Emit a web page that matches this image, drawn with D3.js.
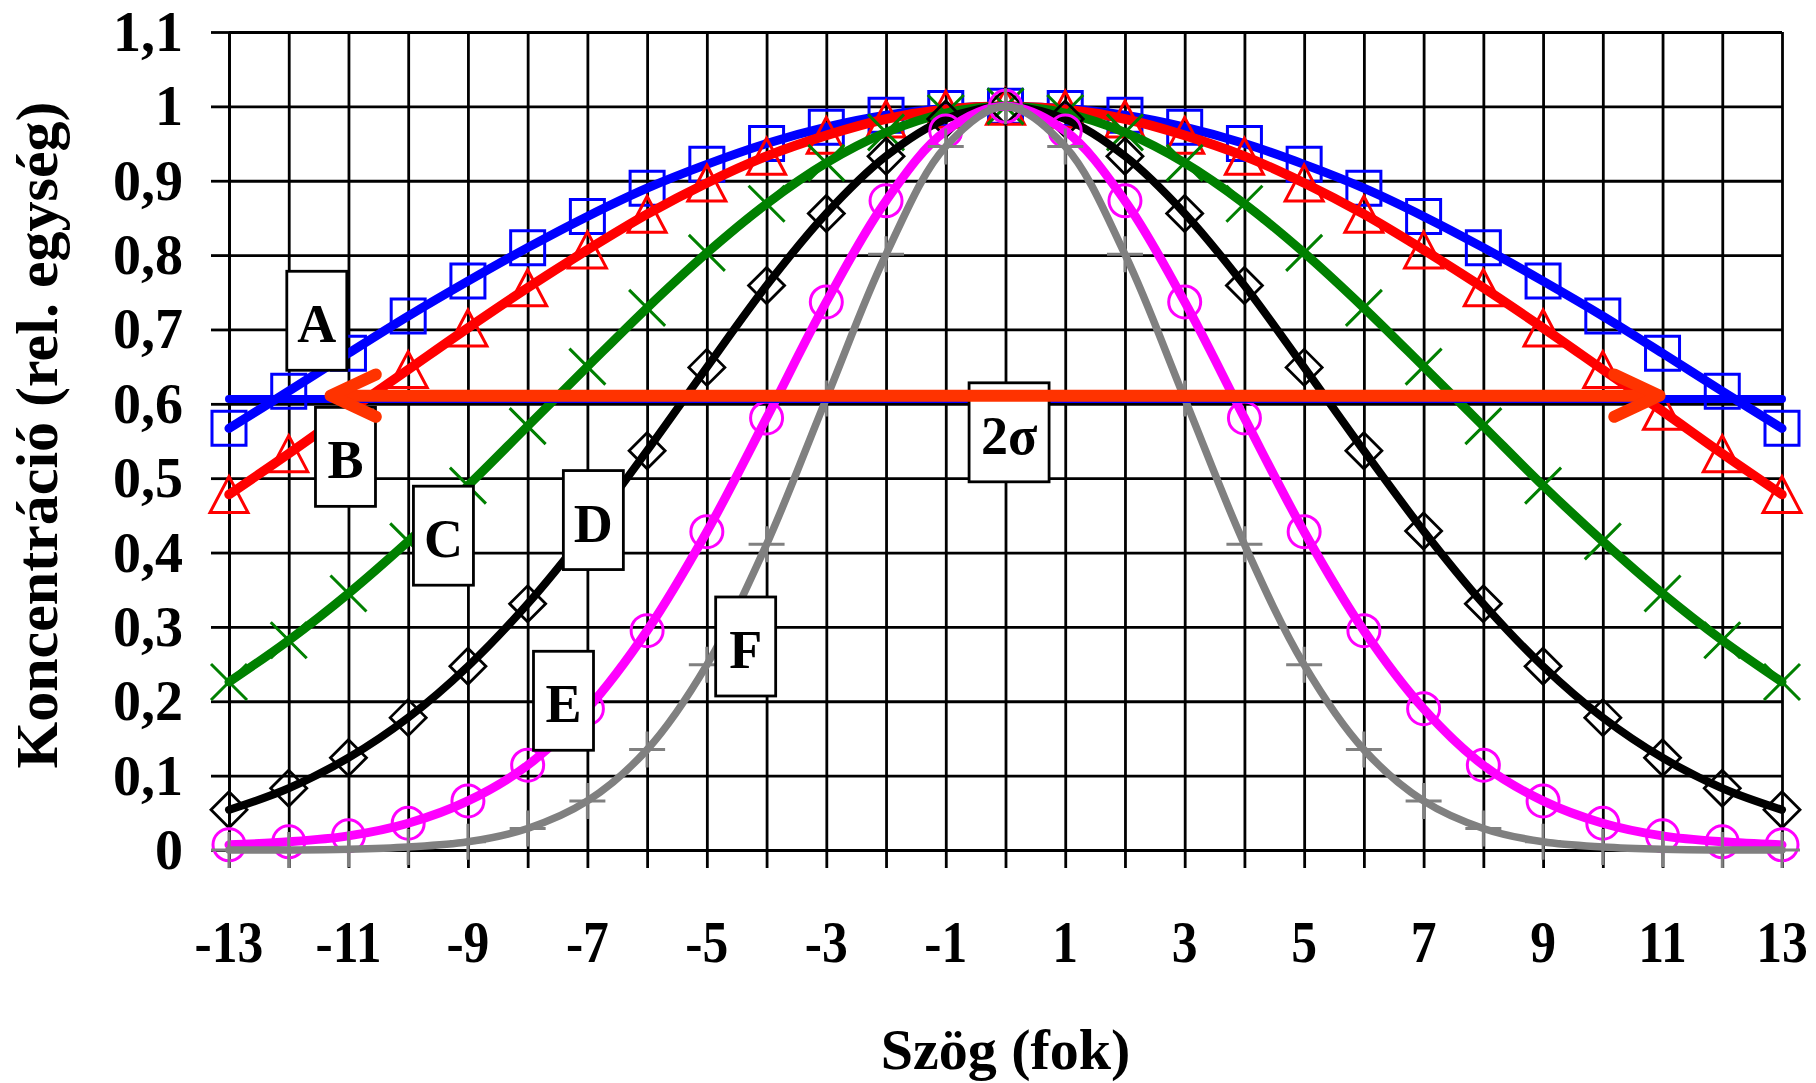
<!DOCTYPE html>
<html>
<head>
<meta charset="utf-8">
<script src="https://cdn.jsdelivr.net/npm/d3@7"></script>
<style>
  html, body { margin: 0; padding: 0; background: #fff; }
  svg { display: block; }
  text { font-family: "Liberation Serif", "Times New Roman", serif; font-weight: bold; fill: #000; }
</style>
</head>
<body>
<svg id="chart" width="1816" height="1083"></svg>
<script>
// ---------------- data ----------------
const angles = [-13,-12,-11,-10,-9,-8,-7,-6,-5,-4,-3,-2,-1,0,1,2,3,4,5,6,7,8,9,10,11,12,13];
const seriesA = [0.567,0.617,0.668,0.718,0.765,0.810,0.852,0.890,0.922,0.950,0.972,0.988,0.997,1.000,0.997,0.988,0.972,0.950,0.922,0.890,0.852,0.810,0.765,0.718,0.668,0.617,0.567];
const seriesB = [0.478,0.533,0.590,0.646,0.702,0.756,0.807,0.855,0.897,0.933,0.961,0.983,0.996,1.000,0.996,0.983,0.961,0.933,0.897,0.855,0.807,0.756,0.702,0.646,0.590,0.533,0.478];
const seriesC = [0.226,0.282,0.345,0.415,0.490,0.570,0.650,0.729,0.803,0.869,0.924,0.965,0.991,1.000,0.991,0.965,0.924,0.869,0.803,0.729,0.650,0.570,0.490,0.415,0.345,0.282,0.226];
const seriesD = [0.054,0.083,0.124,0.178,0.247,0.331,0.429,0.537,0.649,0.759,0.856,0.933,0.983,1.000,0.983,0.933,0.856,0.759,0.649,0.537,0.429,0.331,0.247,0.178,0.124,0.083,0.054];
const seriesE = [0.007,0.011,0.019,0.036,0.066,0.114,0.190,0.295,0.428,0.581,0.737,0.873,0.967,1.000,0.967,0.873,0.737,0.581,0.428,0.295,0.190,0.114,0.066,0.036,0.019,0.011,0.007];
const seriesF = [0.000,0.000,0.001,0.004,0.011,0.029,0.066,0.135,0.249,0.411,0.607,0.801,0.946,1.000,0.946,0.801,0.607,0.411,0.249,0.135,0.066,0.029,0.011,0.004,0.001,0.000,0.000];
const seriesNames = ["A","B","C","D","E","F"];
const sigmaLevel = 0.6065;            // e^(-1/2) level line
const sigmaArrowFrom = -11.3, sigmaArrowTo = 10.95, sigmaArrowLevel = 0.611;
const xTickLabels = [-13,-11,-9,-7,-5,-3,-1,1,3,5,7,9,11,13];
const yTickValues = [0,0.1,0.2,0.3,0.4,0.5,0.6,0.7,0.8,0.9,1,1.1];
const xTitle = "Szög (fok)";
const yTitle = "Koncentráció (rel. egység)";
const annotationTexts = ["A","B","C","D","E","F","2σ"];

// ---------------- layout ----------------
const svg = d3.select("#chart");
const x = d3.scaleLinear().domain([-13, 13]).range([229, 1782]);
const y = d3.scaleLinear().domain([0, 1.1]).range([850, 32]);
const fmt = v => (Math.round(v*10)/10).toString().replace(".", ",");

// grid (vertical every 1, horizontal every 0.1)
const gridX = svg.append("g").attr("transform", `translate(0,${y(0)})`)
  .call(d3.axisBottom(x).tickValues(d3.range(-13, 14)).tickSize(-(y(0) - y(1.1))).tickSizeOuter(0).tickFormat(""));
const gridY = svg.append("g").attr("transform", `translate(${x(-13)},0)`)
  .call(d3.axisLeft(y).tickValues(yTickValues).tickSize(-(x(13) - x(-13))).tickSizeOuter(0).tickFormat(""));
[gridX, gridY].forEach(g => {
  g.select(".domain").remove();
  g.selectAll("line").attr("stroke", "#000").attr("stroke-width", 2.8);
});
// outward ticks
const tickX = svg.append("g").attr("transform", `translate(0,${y(0)})`)
  .call(d3.axisBottom(x).tickValues(d3.range(-13, 14)).tickSize(18).tickSizeOuter(0).tickFormat(""));
const tickY = svg.append("g").attr("transform", `translate(${x(-13)},0)`)
  .call(d3.axisLeft(y).tickValues(yTickValues).tickSize(18).tickSizeOuter(0).tickFormat(""));
[tickX, tickY].forEach(g => {
  g.select(".domain").attr("stroke", "#000").attr("stroke-width", 2.8);
  g.selectAll("line").attr("stroke", "#000").attr("stroke-width", 2.8);
});

// y tick labels
svg.append("g").selectAll("text").data(yTickValues).join("text")
  .attr("x", 183).attr("y", d => y(d) + 19)
  .attr("text-anchor", "end").attr("font-size", 56)
  .text(d => fmt(d));
// x tick labels (narrow)
svg.append("g").selectAll("text").data(xTickLabels).join("text")
  .attr("transform", d => `translate(${x(d)},962) scale(0.86,1)`)
  .attr("text-anchor", "middle").attr("font-size", 60)
  .text(d => d);
// axis titles
svg.append("text").attr("x", (x(-13) + x(13)) / 2).attr("y", 1069)
  .attr("text-anchor", "middle").attr("font-size", 58).text(xTitle);
svg.append("text").attr("transform", `translate(57,${(y(0) + y(1.1)) / 2 - 6}) rotate(-90)`)
  .attr("text-anchor", "middle").attr("font-size", 60).text(yTitle);

// ---------------- series ----------------
const allSeries = [seriesA, seriesB, seriesC, seriesD, seriesE, seriesF];
const colors = ["#0000FF", "#FF0000", "#008000", "#000000", "#FF00FF", "#808080"];
const widths = [9, 9.5, 9, 8, 9, 7.5];
const markerType = ["square", "triangle", "x", "diamond", "circle", "plus"];
const line = d3.line().x(d => x(d[0])).y(d => y(d[1])).curve(d3.curveCatmullRom.alpha(0.5));

function markerPath(type) {
  const s = 18;
  switch (type) {
    case "square": return `M${-17},${-17}H17V17H-17Z`;
    case "triangle": return `M0,${-18}L19,18H-19Z`;
    case "x": return `M${-s},${-s}L${s},${s}M${-s},${s}L${s},${-s}`;
    case "diamond": return `M0,${-s}L${s},0L0,${s}L${-s},0Z`;
    case "circle": return d3.arc()({innerRadius: 0, outerRadius: 16, startAngle: 0, endAngle: 2*Math.PI});
    case "plus": return `M${-s},0H${s}M0,${-s}V${s}`;
  }
}

allSeries.forEach((vals, i) => {
  const pts = angles.map((a, j) => [a, vals[j]]);
  const g = svg.append("g").attr("class", "series-" + seriesNames[i]);
  g.append("path").datum(pts).attr("d", line)
    .attr("fill", "none").attr("stroke", colors[i]).attr("stroke-width", widths[i])
    .attr("stroke-linecap", "round").attr("stroke-linejoin", "round");
  const mp = markerPath(markerType[i]);
  g.selectAll("path.m").data(pts).join("path").attr("class", "m")
    .attr("transform", d => `translate(${x(d[0])},${y(d[1])})`)
    .attr("d", mp)
    .attr("fill", "none").attr("stroke", colors[i]).attr("stroke-width", i === 3 ? 2.8 : 3);
});

// sigma level line (blue)
svg.append("path").datum([[-13, sigmaLevel], [13, sigmaLevel]])
  .attr("d", d3.line().x(d => x(d[0])).y(d => y(d[1])))
  .attr("stroke", "#0000FF").attr("stroke-width", 8).attr("stroke-linecap", "round").attr("fill", "none");

// ---------------- annotation boxes ----------------
const annoX = [-11.53, -11.05, -9.41, -6.90, -7.40, -4.35, 0.06];
const annoY = [0.711, 0.528, 0.422, 0.443, 0.200, 0.273, 0.561];
const ann = svg.append("g").selectAll("g").data(annotationTexts).join("g")
  .attr("transform", (d, i) => `translate(${x(annoX[i])},${y(annoY[i])})`);
ann.append("rect")
  .attr("x", d => d.length > 1 ? -40 : -30).attr("y", -50)
  .attr("width", d => d.length > 1 ? 80 : 60).attr("height", 99)
  .attr("fill", "#fff").attr("stroke", "#000").attr("stroke-width", 2.8);
ann.append("text").attr("text-anchor", "middle").attr("y", 21).attr("font-size", 54).text(d => d);

// ---------------- 2σ arrow ----------------
const ay = y(sigmaArrowLevel);
const arrow = svg.append("g").attr("stroke", "#FF3300").attr("stroke-width", 12)
  .attr("stroke-linecap", "round").attr("stroke-linejoin", "round").attr("fill", "none");
arrow.append("line").attr("x1", x(sigmaArrowFrom) + 4).attr("x2", x(sigmaArrowTo) - 4).attr("y1", ay).attr("y2", ay);
const bl = 50, ang = 25 * Math.PI / 180;
[[x(sigmaArrowFrom), 1], [x(sigmaArrowTo), -1]].forEach(([tx, dir]) => {
  arrow.append("path")
    .attr("d", `M${tx + dir*bl*Math.cos(ang)},${ay - bl*Math.sin(ang)}L${tx},${ay}L${tx + dir*bl*Math.cos(ang)},${ay + bl*Math.sin(ang)}`);
});
</script>
</body>
</html>
